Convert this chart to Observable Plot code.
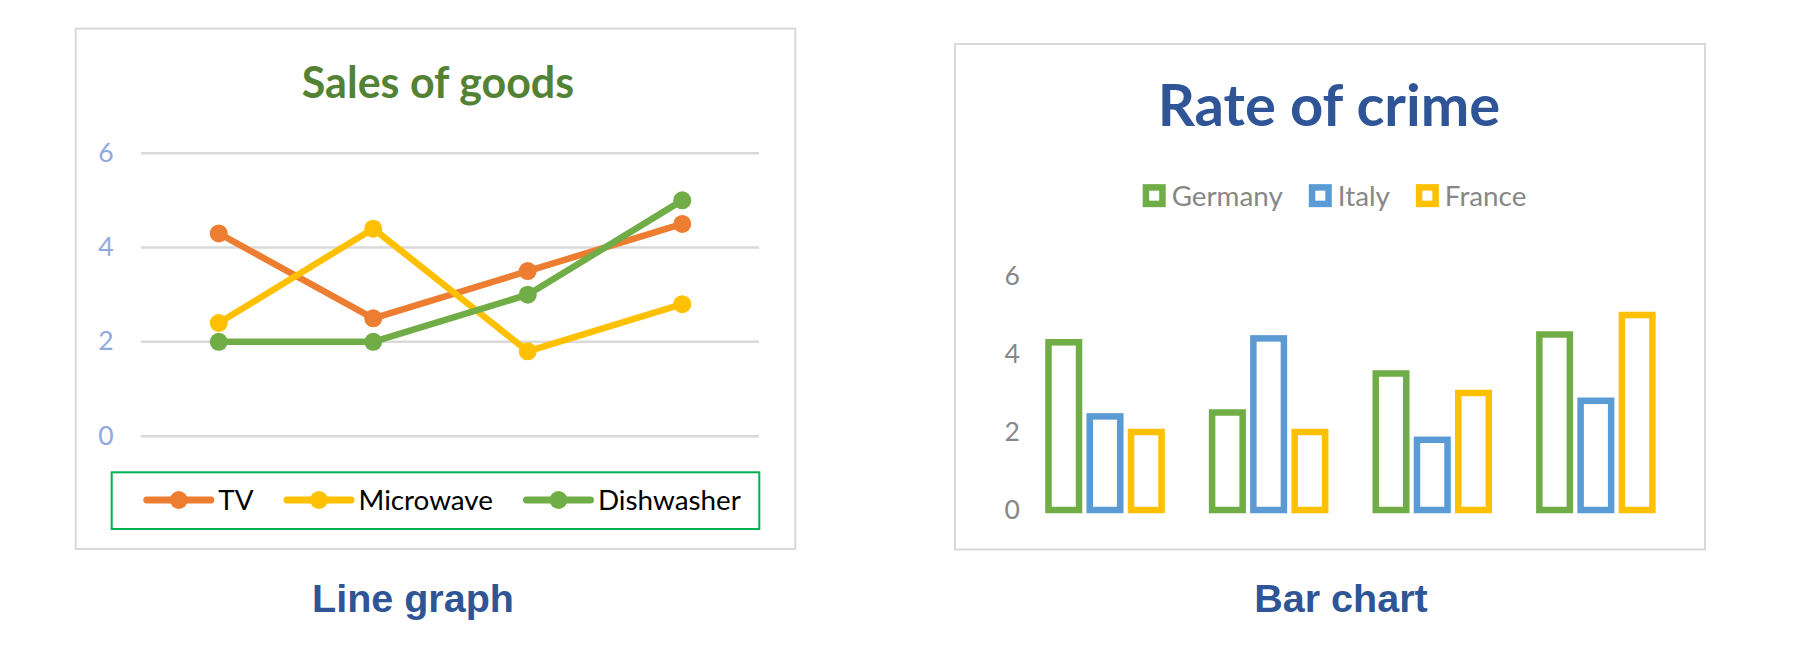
<!DOCTYPE html>
<html><head><meta charset="utf-8">
<script src="https://cdn.jsdelivr.net/npm/d3@7"></script>
<script src="https://cdn.jsdelivr.net/npm/@observablehq/plot@0.6"></script>
<style>
html,body{margin:0;padding:0;background:#fff;}
#stage{position:relative;width:1809px;height:668px;overflow:hidden;background:#fff;}
#overlay{position:absolute;left:0;top:0;}
</style></head><body>
<div id="stage"><svg id="overlay" width="1809" height="668" xmlns="http://www.w3.org/2000/svg"></svg></div>
<script>
// ---- data ----
const categories = ["Category 1", "Category 2", "Category 3", "Category 4"];
const yTicks = [0, 2, 4, 6];

const lineSeries = ["TV", "Microwave", "Dishwasher"];
const lineColors = ["#ed7d31", "#ffc000", "#70ad47"];
const tvSales = [4.3, 2.5, 3.5, 4.5];
const microwaveSales = [2.4, 4.4, 1.8, 2.8];
const dishwasherSales = [2, 2, 3, 5];

const countries = ["Germany", "Italy", "France"];
const countryColors = ["#70ad47", "#5b9bd5", "#ffc000"];
const germanyRate = [4.3, 2.5, 3.5, 4.5];
const italyRate = [2.4, 4.4, 1.8, 2.8];
const franceRate = [2, 2, 3, 5];

const lineTitle = "Sales of goods";
const barTitle = "Rate of crime";
const lineCaption = "Line graph";
const barCaption = "Bar chart";

// ---- tables ----
const salesRows = [];
[tvSales, microwaveSales, dishwasherSales].forEach((vals, i) =>
  vals.forEach((v, j) => salesRows.push({series: lineSeries[i], category: categories[j], value: v})));
const rateRows = [];
[germanyRate, italyRate, franceRate].forEach((vals, i) =>
  vals.forEach((v, j) => rateRows.push({country: countries[i], category: categories[j], value: v})));

const stage = document.getElementById("stage");
const overlay = document.getElementById("overlay");
const NS = "http://www.w3.org/2000/svg";
function el(tag, attrs, parent = overlay) {
  const e = document.createElementNS(NS, tag);
  for (const k in attrs) e.setAttribute(k, attrs[k]);
  parent.appendChild(e);
  return e;
}
function txt(str, attrs) { const t = el("text", attrs); t.textContent = str; return t; }

// panel frames
el("rect", {x: 75.7, y: 28.6, width: 719.6, height: 520.4, fill: "#fff", stroke: "#d9d9d9", "stroke-width": 2});
el("rect", {x: 955, y: 44, width: 750, height: 505.5, fill: "#fff", stroke: "#d9d9d9", "stroke-width": 2});

// titles & captions
txt(lineTitle, {x: 438, y: 98, "text-anchor": "middle", "font-family": "Lato, sans-serif", "font-weight": 700, "font-size": 43, fill: "#548235"});
txt(barTitle, {x: 1329, y: 126, "text-anchor": "middle", "font-family": "Lato, sans-serif", "font-weight": 700, "font-size": 58, fill: "#2f5597"});
txt(lineCaption, {x: 413, y: 612, "text-anchor": "middle", "font-family": "'Liberation Sans', Arial, sans-serif", "font-weight": 700, "font-size": 39.5, fill: "#2f5597"});
txt(barCaption, {x: 1341, y: 612, "text-anchor": "middle", "font-family": "'Liberation Sans', Arial, sans-serif", "font-weight": 700, "font-size": 39.5, fill: "#2f5597"});

// line chart legend
el("rect", {x: 111.7, y: 472.3, width: 647.6, height: 56.7, fill: "none", stroke: "#00b050", "stroke-width": 2});
let lx = 143.3;
lineSeries.forEach((name, i) => {
  el("line", {x1: lx + 3.5, x2: lx + 67.5, y1: 500, y2: 500, stroke: lineColors[i], "stroke-width": 7, "stroke-linecap": "round"});
  el("circle", {cx: lx + 35.5, cy: 500, r: 9, fill: lineColors[i]});
  const t = txt(name, {x: lx + 75, y: 510, "font-family": "Lato, sans-serif", "font-size": 27.8, fill: "#000"});
  lx = lx + 75 + t.getComputedTextLength() + 30;
});

// bar chart legend
const legItems = countries.map((name, i) => {
  const r = el("rect", {width: 16.5, height: 16.5, y: 187.4, fill: "#fff", stroke: countryColors[i], "stroke-width": 6.5});
  const t = txt(name, {y: 206, "font-family": "Lato, sans-serif", "font-size": 27.8, fill: "#878787"});
  return {r, t, w: 29 + t.getComputedTextLength()};
});
const gap = 26;
const total = legItems.reduce((s, d) => s + d.w, 0) + gap * (legItems.length - 1);
let bx = 1334.5 - total / 2;
legItems.forEach(d => {
  d.r.setAttribute("x", bx + 3.25);
  d.t.setAttribute("x", bx + 29);
  bx += d.w + gap;
});

const fmt = d3.format("d");

// ---- line chart ----
const linePlot = Plot.plot({
  width: 710, height: 340,
  marginLeft: 61, marginRight: 31, marginTop: 32.7, marginBottom: 24.3,
  style: {fontFamily: "Lato, sans-serif", fontSize: "26.5px", color: "#8faadc", background: "transparent", overflow: "visible"},
  x: {type: "point", domain: categories, padding: 0.5, axis: null, round: false},
  y: {domain: [0, 6]},
  color: {domain: lineSeries, range: lineColors},
  marks: [
    Plot.gridY({ticks: yTicks, stroke: "#d9d9d9", strokeOpacity: 1, strokeWidth: 2.5}),
    Plot.axisY({ticks: yTicks, tickFormat: fmt, tickSize: 0, tickPadding: 28, label: null}),
    Plot.line(salesRows, {x: "category", y: "value", z: "series", stroke: "series", strokeWidth: 6.5, strokeLinejoin: "round", strokeLinecap: "round"}),
    Plot.dot(salesRows, {x: "category", y: "value", fill: "series", r: 9})
  ]
});
Object.assign(linePlot.style, {position: "absolute", left: "80px", top: "120px"});
stage.appendChild(linePlot);

// ---- bar chart ----
const barPlot = Plot.plot({
  width: 740, height: 310,
  marginLeft: 63.2, marginRight: 22.3, marginTop: 46, marginBottom: 30,
  style: {fontFamily: "Lato, sans-serif", fontSize: "26.5px", color: "#878787", background: "transparent", overflow: "visible"},
  fx: {domain: categories, paddingInner: 0.309, paddingOuter: 0.1545, axis: null, round: false, label: null},
  x: {domain: countries, paddingInner: 0.26, paddingOuter: 0, axis: null, round: false},
  y: {domain: [0, 6]},
  color: {domain: countries, range: countryColors},
  marks: [
    Plot.axisY({ticks: yTicks, tickFormat: fmt, tickSize: 0, tickPadding: 29, label: null}),
    Plot.barY(rateRows, {fx: "category", x: "country", y: "value", fill: "white", stroke: "country", strokeWidth: 6.5, inset: 0})
  ]
});
Object.assign(barPlot.style, {position: "absolute", left: "960px", top: "230px"});
stage.appendChild(barPlot);
</script>
</body></html>
